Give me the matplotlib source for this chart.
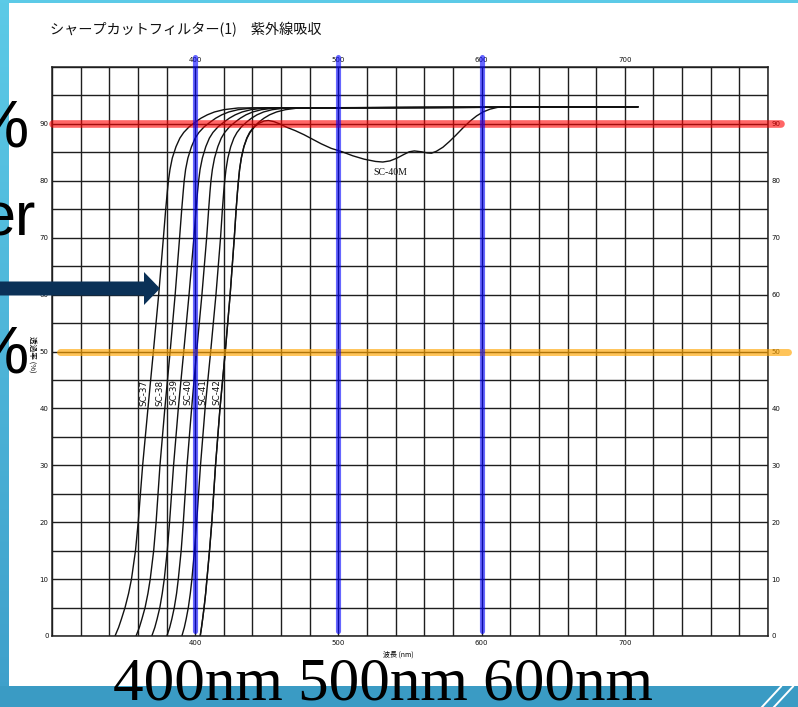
import numpy as np
import matplotlib.pyplot as plt
from matplotlib.colors import LinearSegmentedColormap
from matplotlib.patches import Rectangle, Polygon

plt.rcParams['font.family'] = ['DejaVu Sans']
JP = ['Noto Sans CJK JP', 'DejaVu Sans']

title = 'シャープカットフィルター(1)　紫外線吸収'
x_label = '波長 (nm)'
y_label = '透過率 (%)'
caption = '400nm 500nm 600nm'

# transmittance levels (%) shared by the cut-off curves
levels = [0, 1.5, 3, 5, 7.5, 10, 15, 20, 30, 40, 50, 60, 70, 75, 78, 80, 82, 84, 86, 87.5,
          88.5, 89.5, 90.3, 91, 91.6, 92.1, 92.5, 92.8, 93]

# wavelength (nm) at which each filter reaches the levels above
sc37 = [344, 346.5, 348.5, 351, 353.5, 355.5, 358.3, 360.2, 363.3, 367, 370.8, 374.5, 377.8,
        379.4, 380.5, 381.3, 382.4, 384, 386.6, 389.3, 392, 395.8, 400, 404, 408.5, 413.5,
        420, 430, 709]
sc38 = [358.7, 361, 362.8, 365, 367, 368.6, 371, 372.7, 375.4, 378.8, 382.5, 386, 389.1,
        390.6, 391.6, 392.3, 393.3, 394.9, 397.4, 400, 402.6, 406.3, 410.4, 414.3, 418.6,
        423.5, 430, 440, 709]
sc39 = [369.7, 371.8, 373.4, 375.3, 377, 378.4, 380.5, 382.1, 384.9, 388.2, 392, 395.7, 399.1,
        400.6, 401.6, 402.4, 403.4, 405, 407.4, 409.9, 412.4, 416, 420, 423.8, 428, 432.8,
        439, 449, 709]
sc40 = [380.2, 382.2, 383.7, 385.4, 387, 388.2, 390.2, 391.7, 394.3, 397.5, 401, 404.7, 408,
        409.4, 410.3, 411, 412, 413.5, 415.8, 418.2, 420.6, 424, 427.8, 431.5, 435.5, 440.2,
        446.3, 456, 709]
sc41 = [390.7, 392.4, 393.7, 395.2, 396.6, 397.7, 399.5, 401, 403.7, 406.9, 410.8, 414.5,
        417.7, 419, 419.9, 420.6, 421.5, 422.8, 424.8, 427, 429.2, 432.3, 435.8, 439.3, 443.2,
        447.8, 453.8, 463, 709]
sc42 = [403.5, 404.4, 405.2, 406.2, 407.3, 408.2, 410, 411.6, 414.2, 417.3, 421, 424.4,
        427.3, 428.6, 429.5, 430.2, 431, 432.2, 434, 436, 438, 441, 444.4, 448, 452, 456.8,
        463, 472, 709]
curves = [sc37, sc38, sc39, sc40, sc41, sc42]
names = ['SC-37', 'SC-38', 'SC-39', 'SC-40', 'SC-41', 'SC-42']
name_wl = [364.5, 375, 385, 395, 405.5, 415]
name_t = 42.8

# SC-40M: dip in the visible range
sc40m_wl = [403.5, 404.4, 405.2, 406.2, 407.3, 408.2, 410, 411.6, 414.2, 417.3, 421, 424.4,
            427.3, 428.6, 429.5, 430.2, 431, 432.2, 434, 436.2, 438.3, 441.5, 444.5, 448, 451,
            455, 459, 464, 470, 476, 482, 488, 495, 502.6, 510, 518, 526, 531, 536, 541,
            545.5, 549.5, 553, 558, 562, 565, 568.5, 573, 577.5, 582, 587, 592, 596.5, 601,
            606, 611, 616]
sc40m_t = [0, 1.5, 3, 5, 7.5, 10, 15, 20, 30, 40, 50, 60, 70, 75, 78, 80, 82, 84, 86, 87.5,
           88.5, 89.5, 90.1, 90.5, 90.6, 90.4, 90.0, 89.4, 88.8, 88.1, 87.3, 86.5, 85.7, 85.1,
           84.4, 83.8, 83.4, 83.3, 83.5, 84.0, 84.6, 85.1, 85.25, 85.1, 84.9, 84.85, 85.2,
           85.9, 86.9, 88.0, 89.3, 90.5, 91.4, 92.1, 92.6, 92.9, 93.0]

marker_wl = [400, 500, 600]
marker_t = [90, 50]

W, H = 798, 707
fig = plt.figure(figsize=(W / 100, H / 100), dpi=100)

# slide frame
bg = fig.add_axes([0, 0, 1, 1], zorder=-5)
side = LinearSegmentedColormap.from_list('side', ['#5ccae7', '#3e9fca'])
bg.imshow(np.linspace(0, 1, 256).reshape(-1, 1), cmap=side, extent=[0, 9, H, 0], aspect='auto')
bg.add_patch(Rectangle((0, 0), W, 3, color='#5ccae7', lw=0))
bg.add_patch(Rectangle((0, 686), W, 21, color='#3a9bc4', lw=0))
bg.plot([762, 781], [707, 686.5], color='white', lw=1.4)
bg.plot([774, 793], [707, 686.5], color='white', lw=1.4)
bg.set_xlim(0, W)
bg.set_ylim(H, 0)
bg.axis('off')

# spectral chart
ax = fig.add_axes([52 / W, (H - 636) / H, (768 - 52) / W, (636 - 67) / H])
ax.set_xlim(300, 800)
ax.set_ylim(0, 100)
ax.set_facecolor('white')
xt = np.arange(300, 801, 20)
yt = np.arange(0, 101, 5)
ax.set_xticks(xt)
ax.set_xticklabels([str(v) if v in (400, 500, 600, 700) else '' for v in xt])
ax.set_yticks(yt)
ax.set_yticklabels([str(v) if v % 10 == 0 and v < 100 else '' for v in yt])
ax.grid(True, color='#1e1e1e', lw=1.0)
ax.set_axisbelow(True)
for s in ax.spines.values():
    s.set_color('#1e1e1e')
    s.set_linewidth(1.1)
ax.tick_params(length=0, labelsize=5, labeltop=True, labelright=True, colors='#111')
ax.tick_params(axis='x', which='both', pad=3)
ax.tick_params(axis='y', which='both', pad=2.5)

for wl, name, lx in zip(curves, names, name_wl):
    ax.plot(wl, levels, color='#111111', lw=1.0)
    ax.text(lx, name_t, name, rotation=90, fontsize=6.3, ha='center', va='center', color='#111')
ax.plot(sc40m_wl, sc40m_t, color='#111111', lw=1.0)
ax.text(536.4, 81.5, 'SC-40M', fontsize=7, family='Liberation Serif', ha='center', va='center', color='#111')

# highlight lines
ax.plot([300.7, 809], [marker_t[0]] * 2, color='red', alpha=0.6, lw=5.5,
        solid_capstyle='round', clip_on=False, zorder=5)
ax.plot([305.6, 814], [marker_t[1]] * 2, color='#ffa500', alpha=0.65, lw=5,
        solid_capstyle='round', clip_on=False, zorder=5)
for v in marker_wl:
    ax.plot([v, v], [0.9, 101.8], color='blue', alpha=0.6, lw=3.7,
            solid_capstyle='round', clip_on=False, zorder=5)

# text and arrow on top of everything
ov = fig.add_axes([0, 0, 1, 1], zorder=10)
ov.set_xlim(0, W)
ov.set_ylim(H, 0)
ov.axis('off')
ov.patch.set_alpha(0)
ov.text(50, 30, title, fontsize=10.2, family=JP, va='center', ha='left', color='#111111')
ov.text(398, 655, x_label, fontsize=5, family=JP, ha='center', va='center')
ov.text(32, 354, y_label, fontsize=5.5, family=JP, rotation=270, ha='center', va='center')
ov.text(29, 148, '%', fontsize=48, family='Liberation Sans', ha='right', va='baseline')
ov.text(36, 236, 'er', fontsize=44, family='Liberation Sans', ha='right', va='baseline')
ov.text(29, 373, '%', fontsize=48, family='Liberation Sans', ha='right', va='baseline')
ov.add_patch(Polygon([(-5, 281.5), (144, 281.5), (144, 272), (160, 288.5), (144, 305),
                      (144, 295.5), (-5, 295.5)], closed=True, color='#0b3157', lw=0))
ov.text(113, 699, caption, fontsize=44, family='Liberation Serif', ha='left', va='baseline')

fig.savefig('out.png', dpi=100)
